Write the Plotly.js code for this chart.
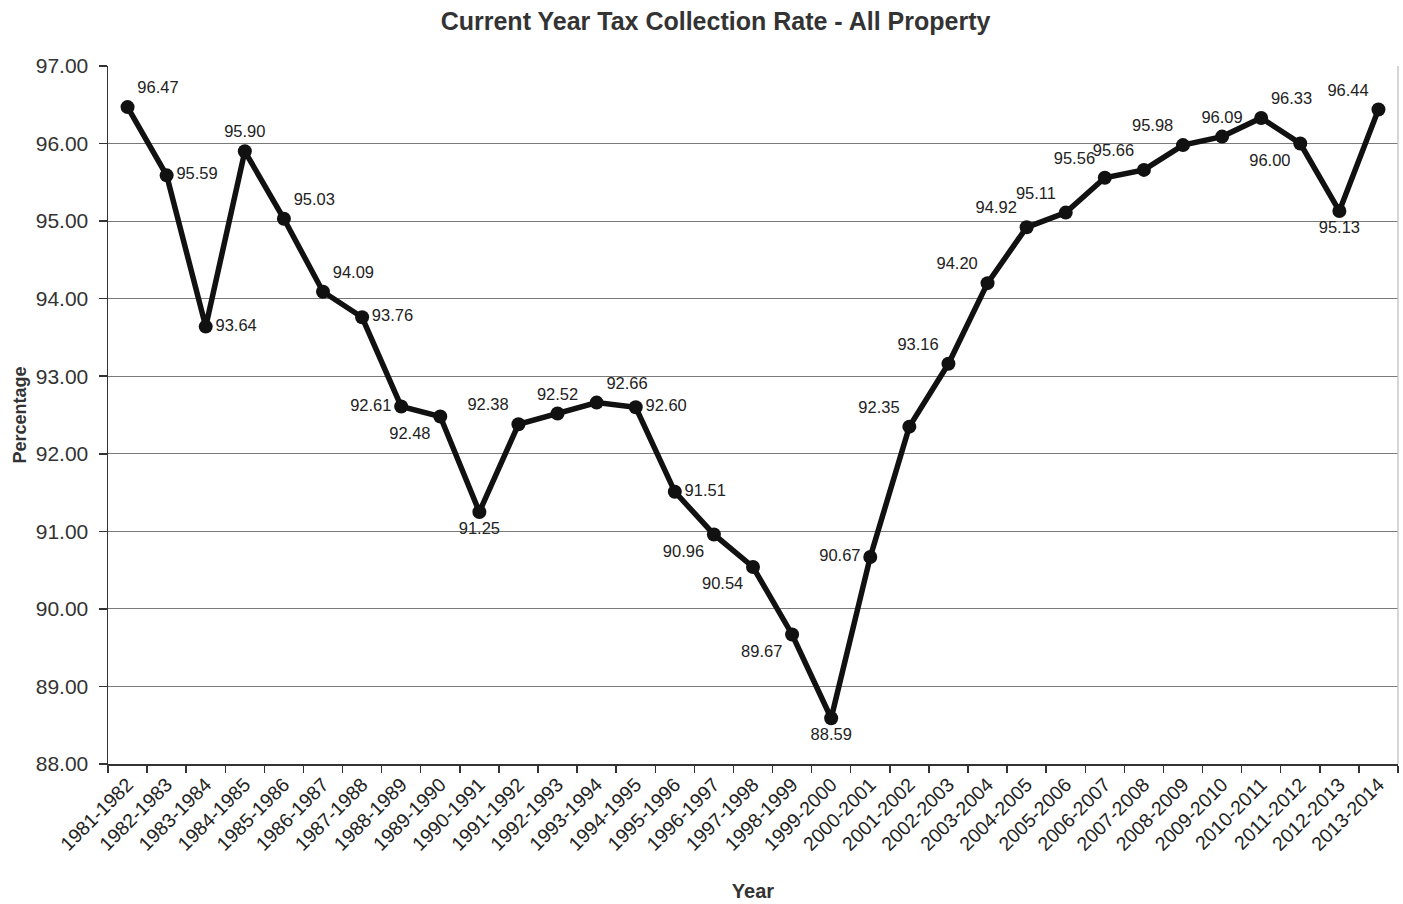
<!DOCTYPE html>
<html>
<head>
<meta charset="utf-8">
<script src="https://cdn.plot.ly/plotly-3.0.1.min.js"></script>
<style>html,body{margin:0;padding:0;background:#fff;}#chart{width:1403px;height:904px;}</style>
</head>
<body>
<div id="chart"></div>
<script>
const years = ["1981-1982","1982-1983","1983-1984","1984-1985","1985-1986","1986-1987","1987-1988","1988-1989","1989-1990","1990-1991","1991-1992","1992-1993","1993-1994","1994-1995","1995-1996","1996-1997","1997-1998","1998-1999","1999-2000","2000-2001","2001-2002","2002-2003","2003-2004","2004-2005","2005-2006","2006-2007","2007-2008","2008-2009","2009-2010","2010-2011","2011-2012","2012-2013","2013-2014"];
const rates = [96.47,95.59,93.64,95.90,95.03,94.09,93.76,92.61,92.48,91.25,92.38,92.52,92.66,92.60,91.51,90.96,90.54,89.67,88.59,90.67,92.35,93.16,94.20,94.92,95.11,95.56,95.66,95.98,96.09,96.33,96.00,95.13,96.44];
const labelPos = ["top right","middle right","middle right","top center","top right","top right","middle right","middle left","bottom left","bottom center","top left","top center","top right","middle right","middle right","bottom left","bottom left","bottom left","bottom center","middle left","top left","top left","top left","top left","top left","top left","top left","top left","top center","top right","bottom left","bottom center","top left"];
const yTicks = [88,89,90,91,92,93,94,95,96,97];

const font = "Liberation Sans, Arial, sans-serif";
const trace = {
  x: years,
  y: rates,
  type: "scatter",
  mode: "lines+markers+text",
  text: rates.map(v => v.toFixed(2)),
  textposition: labelPos,
  textfont: {family: font, size: 16.5, color: "#222"},
  line: {color: "#111", width: 5.5},
  marker: {color: "#111", size: 14},
  cliponaxis: false,
  hoverinfo: "x+y"
};
const layout = {
  width: 1403, height: 904,
  paper_bgcolor: "#fff", plot_bgcolor: "#fff",
  margin: {l: 108, r: 5, t: 66, b: 140},
  showlegend: false,
  title: {text: "<b>Current Year Tax Collection Rate - All Property</b>", x: 0.51, xanchor: "center", y: 0.977, yanchor: "middle", font: {family: font, size: 25, color: "#333"}},
  xaxis: {
    type: "category",
    range: [-0.5, years.length - 0.5],
    tickangle: -45,
    tickson: "boundaries",
    ticks: "outside", ticklen: 7, tickcolor: "#333", tickwidth: 1.5,
    showline: true, linecolor: "#333", linewidth: 1.5,
    showgrid: false,
    tickfont: {family: font, size: 19.5, color: "#222"},
    title: {text: "<b>Year</b>", font: {family: font, size: 20, color: "#333"}, standoff: 30},
    automargin: false
  },
  yaxis: {
    range: [88, 97],
    tickvals: yTicks,
    ticktext: yTicks.map(v => v.toFixed(2)),
    ticks: "outside", ticklen: 8, tickcolor: "#333", tickwidth: 1.5,
    ticklabelstandoff: 6,
    showline: true, linecolor: "#333", linewidth: 1.5,
    showgrid: true, gridcolor: "#7a7a7a", gridwidth: 1,
    zeroline: false,
    tickfont: {family: font, size: 21, color: "#333"},
    title: {text: "<b>Percentage</b>", font: {family: font, size: 18, color: "#333"}, standoff: 4},
    automargin: false
  },
  shapes: [{type: "line", xref: "paper", yref: "paper", x0: 1, x1: 1, y0: 0, y1: 1, line: {color: "#c8c8c8", width: 1.5}}]
};
Plotly.newPlot("chart", [trace], layout, {displayModeBar: false, staticPlot: true});
</script>
</body>
</html>
